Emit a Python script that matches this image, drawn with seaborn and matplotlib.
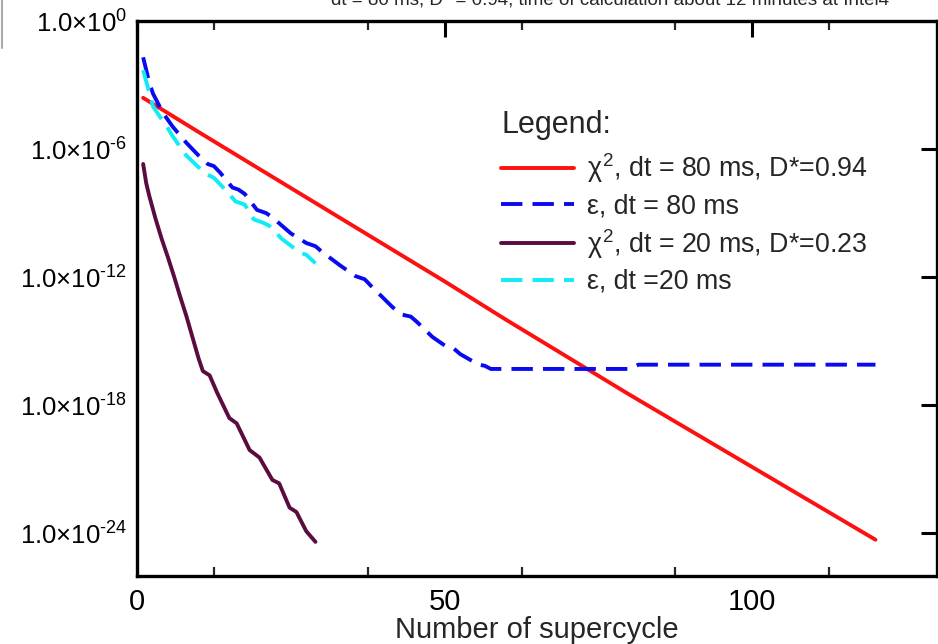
import numpy as np
import pandas as pd
import seaborn as sns
import matplotlib
matplotlib.use("Agg")
import matplotlib.pyplot as plt
from matplotlib.lines import Line2D

# ---- data (x = supercycle number, values stored as log10 of the quantity) ----
red_x = [1, 10, 20, 30, 40, 50, 60, 70, 80, 90, 100, 110, 120]
red_log = [-3.6, -5.2, -6.95, -8.7, -10.45, -12.2, -14.0, -15.75, -17.5, -19.2, -20.9, -22.6, -24.3]

blue_x = [1, 2, 2.6, 4.2, 5.8, 8, 10, 11.5, 12.5, 13.5, 15.5, 16.5, 17.5, 19.5, 21, 22,
          25, 27.5, 29, 30, 33, 35.5, 37, 38, 41.5, 43, 44.5, 45.5, 48, 50, 51.5, 52.5,
          55.5, 56.5, 57.5, 60, 70, 80, 81.5, 90, 100, 110, 120]
blue_log = [-1.7, -2.9, -3.4, -4.3, -4.95, -5.7, -6.3, -6.7, -6.8, -7.1, -7.8, -7.9, -8.1,
            -8.85, -9.0, -9.2, -9.95, -10.4, -10.55, -10.8, -11.45, -11.95, -12.1, -12.4,
            -13.4, -13.75, -13.85, -14.1, -14.8, -15.2, -15.35, -15.6, -16.1, -16.15,
            -16.3, -16.3, -16.3, -16.3, -16.1, -16.1, -16.1, -16.1, -16.1]

purple_x = [1, 1.5, 2, 3, 4, 5, 6, 7, 8, 9, 10, 10.7, 11.8, 13, 15, 16.2, 18.3, 19.9, 22,
            23.1, 24.8, 25.9, 27.5, 29]
purple_log = [-6.7, -7.6, -8.2, -9.25, -10.2, -11.05, -11.95, -12.9, -13.8, -14.8, -15.8,
              -16.4, -16.6, -17.4, -18.6, -18.85, -20.1, -20.45, -21.5, -21.66, -22.8,
              -23.0, -23.9, -24.4]

cyan_x = [1, 2.6, 4, 4.9, 5.8, 8, 10, 11.5, 12.5, 14.5, 16, 17.5, 19, 20.5, 21.5, 23.5,
          26.5, 27.5, 29]
cyan_log = [-2.3, -4.0, -4.6, -4.97, -5.4, -6.3, -6.85, -7.2, -7.35, -7.95, -8.45, -8.6,
            -9.3, -9.45, -9.6, -10.2, -10.85, -10.95, -11.35]

labels = [r"$\chi^2$, dt = 80 ms, D*=0.94", "ε, dt = 80 ms",
          r"$\chi^2$, dt = 20 ms, D*=0.23", "ε, dt =20 ms"]
y_tick_exp = [0, -6, -12, -18, -24]
x_ticks = [0, 50, 100]

sns.set_theme(style="white")
plt.rcParams["font.family"] = ["Liberation Sans", "DejaVu Sans"]
plt.rcParams["mathtext.fontset"] = "custom"
plt.rcParams["mathtext.rm"] = "Liberation Sans"
plt.rcParams["mathtext.it"] = "Liberation Sans"
plt.rcParams["mathtext.bf"] = "Liberation Sans:bold"

fig = plt.figure(figsize=(9.38, 6.44), dpi=100)
ax = fig.add_axes([137 / 938, 1 - 576 / 644, 800 / 938, 555 / 644])

lw = 2.8
dash = (0, (5.5, 2.6))
sns.lineplot(x=red_x, y=10.0 ** np.array(red_log), ax=ax, color="#ff1010", lw=lw,
             label=labels[0], sort=False)
sns.lineplot(x=blue_x, y=10.0 ** np.array(blue_log), ax=ax, color="#0a0af0", lw=lw,
             linestyle=dash, label=labels[1], sort=False)
sns.lineplot(x=purple_x, y=10.0 ** np.array(purple_log), ax=ax, color="#5a0c40", lw=lw,
             label=labels[2], sort=False)
sns.lineplot(x=cyan_x, y=10.0 ** np.array(cyan_log), ax=ax, color="#10ecf4", lw=lw,
             linestyle=dash, label=labels[3], sort=False)

ax.set_yscale("log")
ax.set_xlim(0, 130)
ax.set_ylim(1e-26, 1e0)
ax.set_yticks([10.0 ** e for e in y_tick_exp])
ax.set_yticklabels([r"1.0$\times$10$^{\mathdefault{%s}}$" % (str(e).replace("-", "\u2010"))
                    for e in y_tick_exp], fontsize=18.5)
ax.yaxis.set_minor_locator(matplotlib.ticker.NullLocator())
ax.set_xticks(x_ticks)
ax.set_xticklabels([str(v) for v in x_ticks], fontsize=21)
ax.set_xticks(np.arange(12.5, 130, 25), minor=True)
ax.tick_params(axis="both", which="major", direction="in", length=11.5, width=2.2,
               top=True, right=True, colors="black", pad=7)
ax.tick_params(axis="x", which="minor", direction="in", length=6.5, width=1.6,
               top=True, bottom=True)
ax.tick_params(axis="x", which="major", pad=9)
ax.set_xlabel("Number of supercycle", fontsize=21, labelpad=0)
ax.set_ylabel("")
for s in ax.spines.values():
    s.set_linewidth(2.4)
    s.set_color("black")
ax.grid(False)

leg = ax.legend(loc="upper left", bbox_to_anchor=(0.425, 0.883), frameon=False,
                fontsize=19.3, title="Legend:", title_fontsize=22, handlelength=2.7,
                handletextpad=0.5, labelspacing=0.3, alignment="left")
leg._legend_box.sep = 8

fig.text(0.65, 0.993, "dt = 80 ms, D* = 0.94, time of calculation about 12 minutes at Intel4",
         ha="center", va="baseline", fontsize=13.5)
fig.add_artist(Line2D([0.002, 0.002], [1.0, 1 - 48 / 644], transform=fig.transFigure,
                      color="#aaaaaa", lw=1.5))

fig.savefig("out.png", dpi=100)
